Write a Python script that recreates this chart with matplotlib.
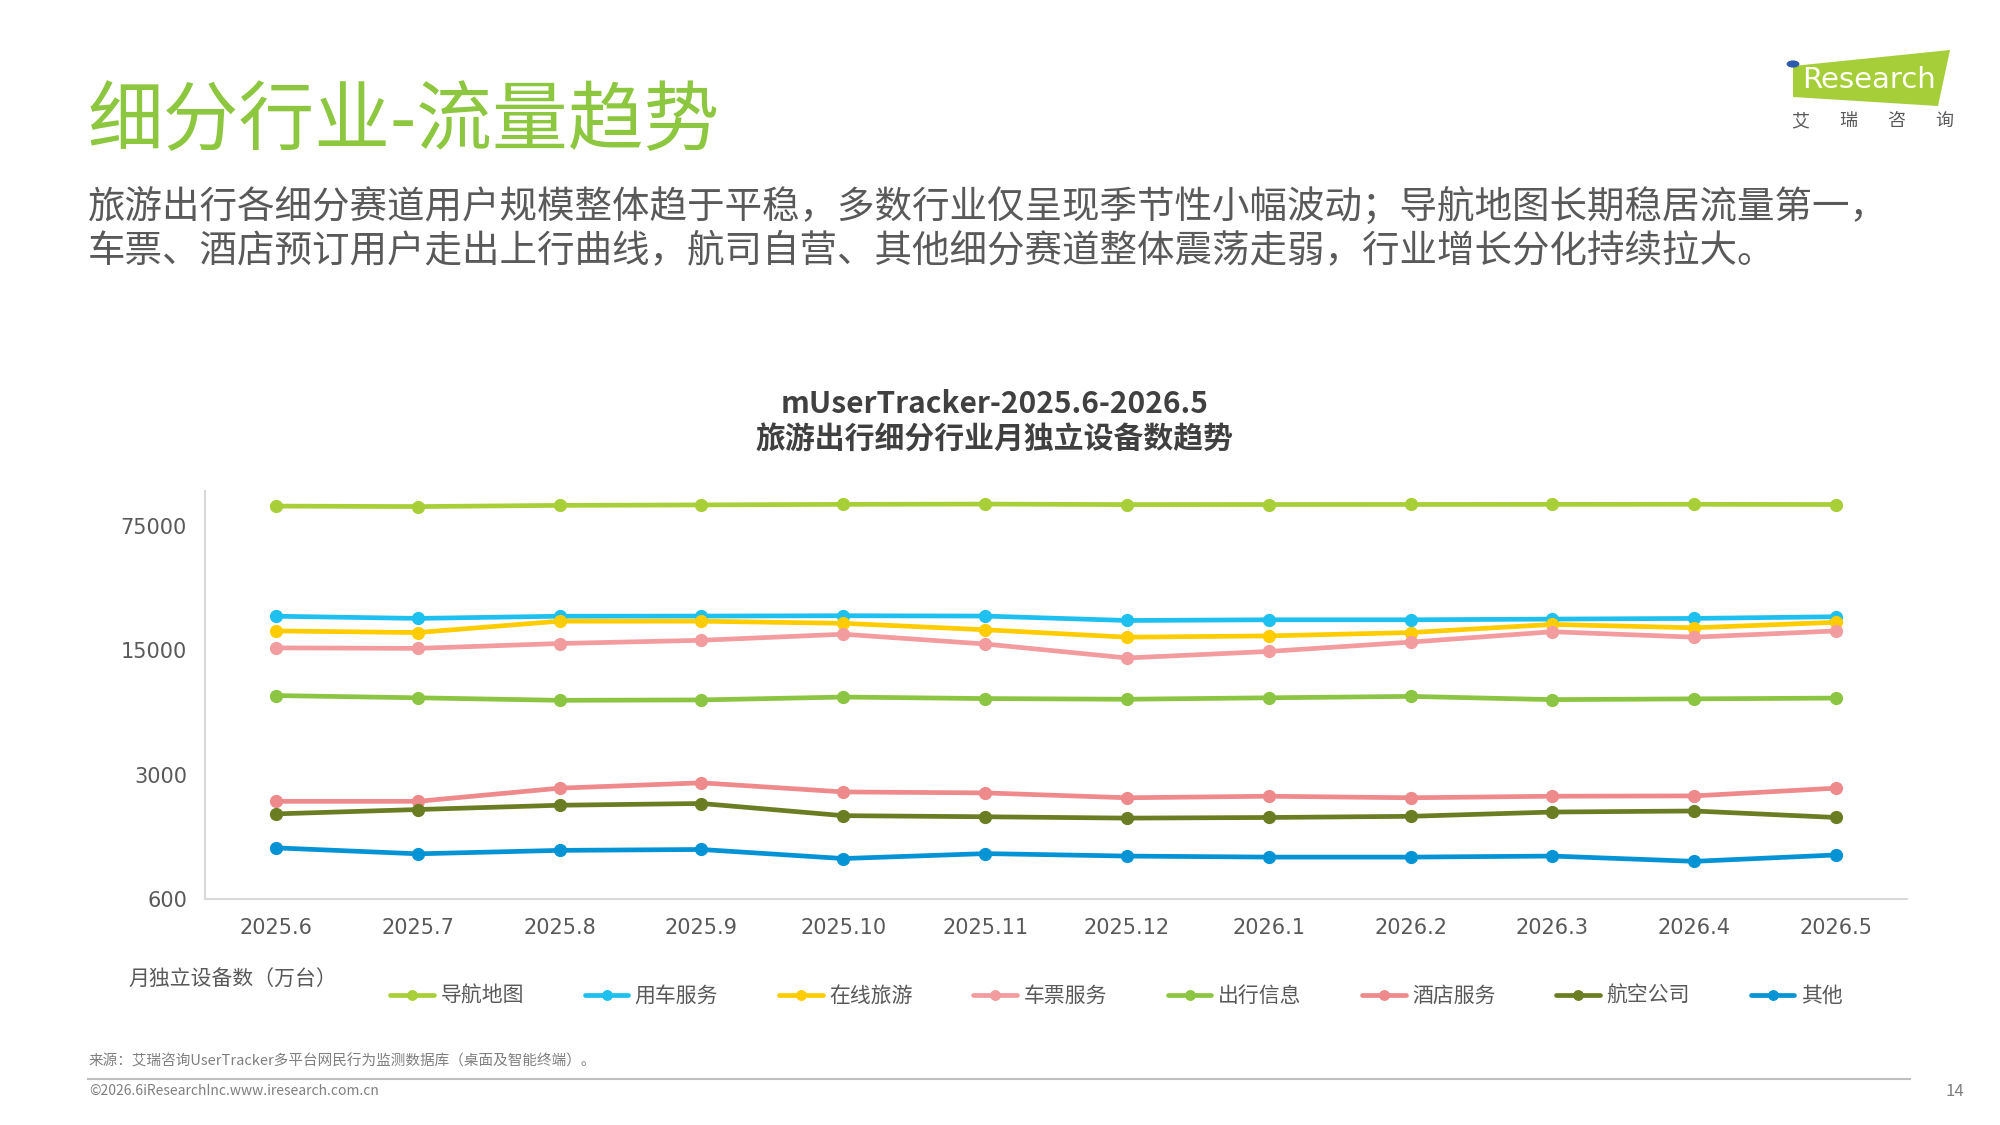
import matplotlib
matplotlib.use("Agg")
import matplotlib.pyplot as plt
import matplotlib.patches as mpatches
from matplotlib.ticker import FixedLocator, FixedFormatter, NullLocator

plt.rcParams['font.family'] = ['Noto Sans CJK SC', 'DejaVu Sans']

# months on the x axis
months = ["2025.6", "2025.7", "2025.8", "2025.9", "2025.10", "2025.11",
          "2025.12", "2026.1", "2026.2", "2026.3", "2026.4", "2026.5"]

# monthly unique devices (10k units)
nav_map = [97200, 96600, 98100, 98700, 99400, 99800, 99100, 99200, 99300, 99400, 99500, 99200]
car_service = [23350, 22700, 23350, 23400, 23500, 23400, 22100, 22300, 22300, 22500, 22700, 23200]
online_travel = [19300, 18900, 21900, 21900, 21300, 19600, 17800, 18100, 18900, 21000, 20100, 21600]
ticket_service = [15500, 15400, 16400, 17100, 18500, 16300, 13600, 14800, 16700, 19100, 17800, 19300]
travel_info = [8360, 8120, 7860, 7900, 8200, 8040, 7970, 8120, 8270, 7930, 8010, 8090]
hotel_service = [2125, 2125, 2520, 2700, 2400, 2370, 2225, 2270, 2225, 2270, 2280, 2520]
airline = [1806, 1911, 2020, 2066, 1765, 1740, 1710, 1724, 1750, 1850, 1875, 1724]
others = [1163, 1077, 1126, 1139, 1013, 1080, 1046, 1032, 1032, 1046, 977, 1061]

series_names = ["导航地图", "用车服务", "在线旅游", "车票服务", "出行信息", "酒店服务", "航空公司", "其他"]
series_values = [nav_map, car_service, online_travel, ticket_service,
                 travel_info, hotel_service, airline, others]
series_colors = ["#A9CF38", "#1EC0EF", "#FFCC00", "#F29C9F",
                 "#8BC541", "#EE8A8B", "#6A7D22", "#0494D5"]

y_ticks = [600, 3000, 15000, 75000]

fig = plt.figure(figsize=(20, 11.25), dpi=100)

# page header
fig.text(0.044, 0.891, "细分行业-流量趋势", fontsize=54.5, color="#8DC63F", va="center", ha="left")
fig.text(0.044, 0.816, "旅游出行各细分赛道用户规模整体趋于平稳，多数行业仅呈现季节性小幅波动；导航地图长期稳居流量第一，",
         fontsize=27, color="#595959", va="center", ha="left")
fig.text(0.044, 0.776, "车票、酒店预订用户走出上行曲线，航司自营、其他细分赛道整体震荡走弱，行业增长分化持续拉大。",
         fontsize=27, color="#595959", va="center", ha="left")

# logo (drawn roughly)
logo = mpatches.Polygon([(1793 / 2000, 1 - 66 / 1125), (1950 / 2000, 1 - 50 / 1125),
                         (1938 / 2000, 1 - 106 / 1125), (1793 / 2000, 1 - 97 / 1125)],
                        closed=True, transform=fig.transFigure, facecolor="#A6CE39", edgecolor="none")
fig.patches.append(logo)
fig.patches.append(mpatches.Circle((1793 / 2000, 1 - 64 / 1125), 0.0032, transform=fig.transFigure,
                                   facecolor="#2E5AAC", edgecolor="none"))
fig.text(1802 / 2000, 1 - 80 / 1125, "Research", fontsize=21, color="white", va="center", ha="left",
         family="DejaVu Sans")
for i, ch in enumerate("艾瑞咨询"):
    fig.text((1800 + i * 48) / 2000, 1 - 121 / 1125, ch, fontsize=13, color="#595959", va="center", ha="center")

# chart title
fig.text(0.4975, 0.641, "mUserTracker-2025.6-2026.5", fontsize=21.5, fontweight="bold", color="#404040",
         va="center", ha="center")
fig.text(0.4975, 0.609, "旅游出行细分行业月独立设备数趋势", fontsize=21.5, fontweight="bold", color="#404040",
         va="center", ha="center")

ax = fig.add_axes([0.1025, 0.2009, 0.851, 0.3629])
x = range(len(months))
for name, vals, col in zip(series_names, series_values, series_colors):
    ax.plot(x, vals, color=col, lw=3.4, marker="o", markersize=8.5, label=name, solid_capstyle="round")

ax.set_yscale("log")
ax.set_ylim(600, 118600)
ax.set_xlim(-0.5, len(months) - 0.5)
ax.yaxis.set_major_locator(FixedLocator(y_ticks))
ax.yaxis.set_major_formatter(FixedFormatter([str(v) for v in y_ticks]))
ax.yaxis.set_minor_locator(NullLocator())
ax.set_xticks(list(x))
ax.set_xticklabels(months)
ax.tick_params(axis="both", length=0, labelsize=15, labelcolor="#595959")
ax.tick_params(axis="x", pad=14)
ax.tick_params(axis="y", pad=13)
for lab in ax.get_xticklabels() + ax.get_yticklabels():
    lab.set_family("DejaVu Sans")
for side in ["top", "right"]:
    ax.spines[side].set_visible(False)
for side in ["left", "bottom"]:
    ax.spines[side].set_color("#D9D9D9")
    ax.spines[side].set_linewidth(1.5)

fig.text(128 / 2000, 1 - 980 / 1125, "月独立设备数（万台）", fontsize=15, color="#595959", va="center", ha="left")

leg = ax.legend(loc="center left", bbox_to_anchor=(382 / 2000, 1 - 996 / 1125), bbox_transform=fig.transFigure,
                ncol=8, frameon=False, fontsize=15, handlelength=2.1, handletextpad=0.3,
                columnspacing=2.92, borderaxespad=0, markerscale=0.8)
for t in leg.get_texts():
    t.set_color("#595959")

# footer
fig.text(89 / 2000, 1 - 1061 / 1125, "来源：艾瑞咨询UserTracker多平台网民行为监测数据库（桌面及智能终端）。",
         fontsize=10.5, color="#7F7F7F", va="center", ha="left")
fig.add_artist(plt.Line2D([88 / 2000, 1910 / 2000], [1 - 1079 / 1125, 1 - 1079 / 1125],
                          transform=fig.transFigure, color="#BFBFBF", lw=1.5))
fig.text(89 / 2000, 1 - 1091 / 1125, "©2026.6iResearchInc.www.iresearch.com.cn", fontsize=10,
         color="#7F7F7F", va="center", ha="left")
fig.text(1955 / 2000, 1 - 1091 / 1125, "14", fontsize=12, color="#7F7F7F", va="center", ha="center")

fig.savefig("out.png", dpi=100)
